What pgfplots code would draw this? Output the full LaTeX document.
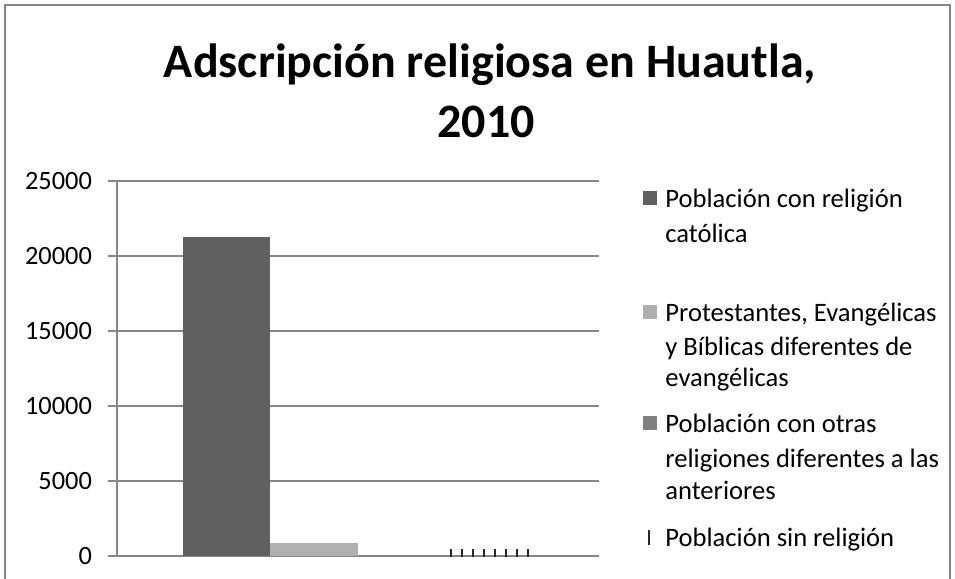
\documentclass[border=0pt]{standalone}
\usepackage{fontspec}
\setmainfont{Carlito}
\usepackage{pgfplots}
\pgfplotsset{compat=1.18}
\usetikzlibrary{patterns.meta}
\definecolor{catol}{RGB}{96,96,96}
\definecolor{protes}{RGB}{176,176,176}
\definecolor{otras}{RGB}{128,128,128}
\definecolor{sinrel}{RGB}{40,40,40}
\definecolor{gridgray}{RGB}{134,134,134}
\newcommand{\legfont}{\fontsize{13.3}{16.5}\selectfont}

\begin{document}
\begin{tikzpicture}
% page = 955 x 579 px, 1 px = 0.5 pt, origin top left
\path[use as bounding box] (0,0) rectangle (477.5pt,-289.5pt);
\draw[gridgray, line width=0.75pt] (2.5pt,-289.5pt) -- (2.5pt,-2.5pt) -- (475pt,-2.5pt) -- (475pt,-289.5pt);

\node[anchor=base, font=\bfseries\fontsize{24}{30}\selectfont, inner sep=0pt] at (245pt,-38.5pt)
  {Adscripción religiosa en Huautla,};
\node[anchor=base, font=\bfseries\fontsize{24}{30}\selectfont, inner sep=0pt] at (243pt,-68.5pt)
  {2010};

\begin{axis}[
  at={(58.5pt,-278pt)}, anchor=south west,
  scale only axis, width=241pt, height=187.5pt,
  ybar=0pt, bar width=43.75pt,
  xmin=-1, xmax=1, ymin=0, ymax=25000,
  ytick={0,5000,10000,15000,20000,25000},
  xtick=\empty,
  axis lines=left,
  axis line style={-, gridgray, line width=0.75pt},
  ymajorgrids,
  grid style={gridgray, line width=0.75pt},
  tick align=outside, major tick length=4.5pt,
  tick style={gridgray, line width=0.75pt},
  yticklabel style={font=\fontsize{13.2}{15}\selectfont, text=black, xshift=-4.5pt},
  /pgf/number format/assume math mode=true,
  /pgf/number format/1000 sep={},
  scaled y ticks=false,
]
\addplot[fill=catol, draw=none] coordinates {(0,21266)};
\addplot[fill=protes, draw=none] coordinates {(0,867)};
\addplot[fill=otras, draw=none] coordinates {(0,4)};
\addplot[draw=none, pattern={Lines[angle=90,distance=5.5pt,line width=1.2pt]}, pattern color=sinrel] coordinates {(0,450)};
\end{axis}

% legend
\fill[catol] (321.5pt,-95.5pt) rectangle (328.5pt,-102.5pt);
\node[anchor=base west, font=\legfont, inner sep=0pt] at (332.5pt,-103.5pt) {Población con religión};
\node[anchor=base west, font=\legfont, inner sep=0pt] at (332.5pt,-121pt) {católica};

\fill[protes] (321.5pt,-152.5pt) rectangle (328.5pt,-159.5pt);
\node[anchor=base west, font=\legfont, inner sep=0pt] at (332.5pt,-160.5pt) {Protestantes, Evangélicas};
\node[anchor=base west, font=\legfont, inner sep=0pt] at (332.5pt,-177.5pt) {y Bíblicas diferentes de};
\node[anchor=base west, font=\legfont, inner sep=0pt] at (332.5pt,-193pt) {evangélicas};

\fill[otras] (321.5pt,-208pt) rectangle (328.5pt,-215pt);
\node[anchor=base west, font=\legfont, inner sep=0pt] at (332.5pt,-216pt) {Población con otras};
\node[anchor=base west, font=\legfont, inner sep=0pt] at (332.5pt,-233.5pt) {religiones diferentes a las};
\node[anchor=base west, font=\legfont, inner sep=0pt] at (332.5pt,-249.5pt) {anteriores};

\fill[pattern={Lines[angle=90,distance=5.5pt,line width=1.2pt]}, pattern color=sinrel] (321.5pt,-265pt) rectangle (328.5pt,-272pt);
\node[anchor=base west, font=\legfont, inner sep=0pt] at (332.5pt,-273pt) {Población sin religión};
\end{tikzpicture}
\end{document}
